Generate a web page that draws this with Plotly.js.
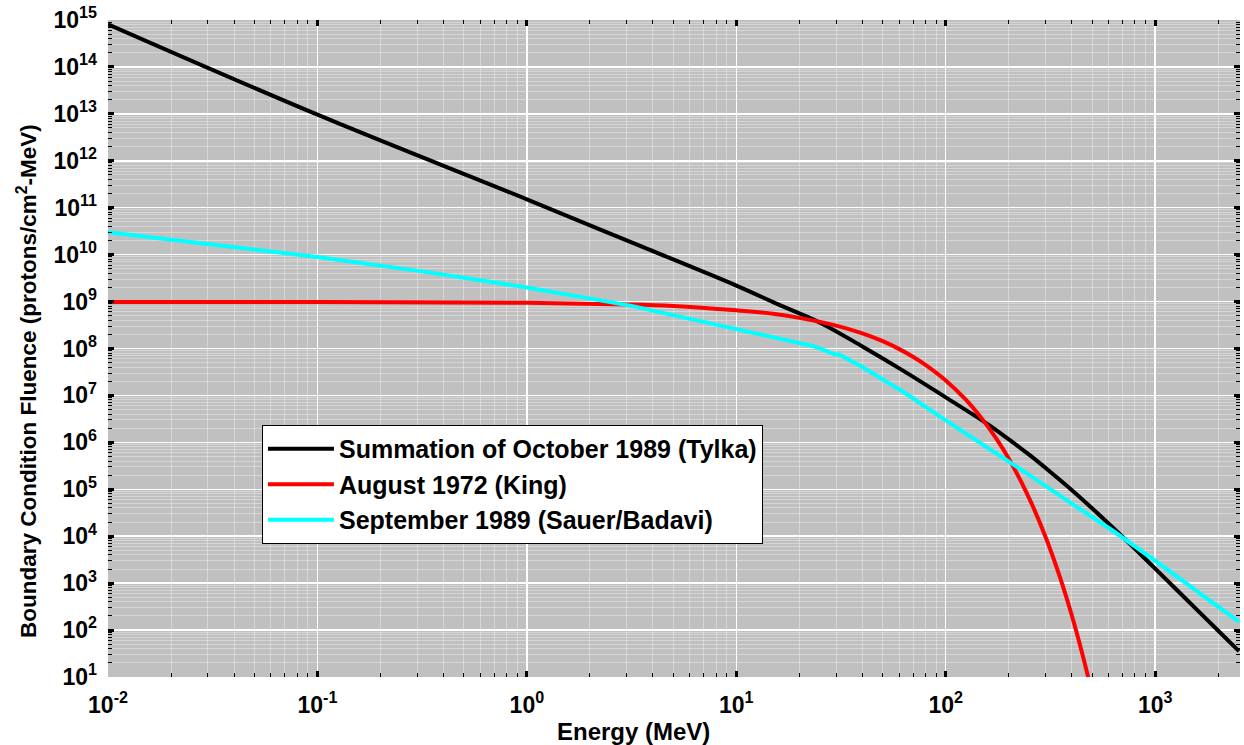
<!DOCTYPE html>
<html>
<head>
<meta charset="utf-8">
<script src="https://cdn.plot.ly/plotly-3.0.1.min.js"></script>
<style>html,body{margin:0;padding:0;background:#fff;}#chart{width:1244px;height:745px;}</style>
</head>
<body>
<div id="chart"></div>
<script>
// Summation of October 1989 (Tylka)
const tylkaE = [0.01, 0.1, 1, 3.16, 10, 15.85, 25.1, 39.8, 63.1, 100, 158.5, 199.5, 251, 316, 398, 501, 631, 794, 1000, 1259, 1585, 1995, 2512];
const tylkaF = [8.1e14, 9.6e12, 1.51e11, 1.82e10, 2.19e9, 8.7e8, 3.55e8, 1.12e8, 3.3e7, 9.1e6, 2.45e6, 1.17e6, 5.4e5, 2.34e5, 9.8e4, 3.9e4, 1.5e4, 5.6e3, 2.04e3, 741, 269, 98, 35.5];

// August 1972 (King)
const kingE = [0.01, 0.1, 1, 3, 5, 10, 15, 20, 30, 40, 50, 60, 70, 80, 100, 125, 150, 175, 200, 250, 300, 350, 400, 450, 500];
const kingF = [9.8e8, 9.8e8, 9.4e8, 8.7e8, 8.05e8, 6.5e8, 5.5e8, 4.5e8, 3.08e8, 2.1e8, 1.43e8, 9.7e7, 6.6e7, 4.5e7, 2.09e7, 8.0e6, 3.05e6, 1.17e6, 4.5e5, 6.5e4, 9.5e3, 1.39e3, 204, 29.8, 4.4];

// September 1989 (Sauer/Badavi)
const sauerE = [0.01, 0.0316, 0.1, 0.316, 1, 3.16, 10, 23.4, 29.3, 31.4, 39.8, 63.1, 100, 158.5, 251, 398, 631, 1000, 1585, 2512];
const sauerF = [3.0e10, 1.66e10, 8.9e9, 4.4e9, 2.0e9, 8.1e8, 2.63e8, 1.12e8, 7.6e7, 7.2e7, 4.1e7, 1.17e7, 2.95e6, 7.8e5, 2.0e5, 5.0e4, 1.29e4, 3.0e3, 6.9e2, 150];

const seriesNames = ['Summation of October 1989 (Tylka)', 'August 1972 (King)', 'September 1989 (Sauer/Badavi)'];

const xTickVals = [0.01, 0.1, 1, 10, 100, 1000];
const xTickText = ['10<sup>-2</sup>', '10<sup>-1</sup>', '10<sup>0</sup>', '10<sup>1</sup>', '10<sup>2</sup>', '10<sup>3</sup>'];
const yTickVals = [1e1, 1e2, 1e3, 1e4, 1e5, 1e6, 1e7, 1e8, 1e9, 1e10, 1e11, 1e12, 1e13, 1e14, 1e15];
const yTickText = ['10<sup>1</sup>', '10<sup>2</sup>', '10<sup>3</sup>', '10<sup>4</sup>', '10<sup>5</sup>', '10<sup>6</sup>', '10<sup>7</sup>', '10<sup>8</sup>', '10<sup>9</sup>', '10<sup>10</sup>', '10<sup>11</sup>', '10<sup>12</sup>', '10<sup>13</sup>', '10<sup>14</sup>', '10<sup>15</sup>'];

const xTitle = 'Energy (MeV)';
const yTitle = 'Boundary Condition Fluence (protons/cm<sup>2</sup>-MeV)';

const FONT = 'Liberation Sans, Arial, sans-serif';

const traces = [
  {x: tylkaE, y: tylkaF, name: seriesNames[0], mode: 'lines', line: {color: '#000000', width: 4, shape: 'spline', smoothing: 1}},
  {x: kingE, y: kingF, name: seriesNames[1], mode: 'lines', line: {color: '#ff0000', width: 4, shape: 'spline', smoothing: 1}},
  {x: sauerE, y: sauerF, name: seriesNames[2], mode: 'lines', line: {color: '#00ffff', width: 4}}
];

const axisCommon = {
  type: 'log',
  tickmode: 'array',
  ticks: 'inside',
  ticklen: 6,
  tickwidth: 3,
  tickcolor: '#000',
  mirror: 'ticks',
  showline: false,
  zeroline: false,
  showgrid: true,
  gridcolor: '#ffffff',
  gridwidth: 1.5,
  automargin: false,
  tickfont: {family: FONT, size: 23, color: '#000', weight: 700},
  minor: {
    dtick: 'D1',
    ticks: 'inside',
    ticklen: 4,
    tickwidth: 1,
    tickcolor: '#000',
    showgrid: true,
    gridcolor: 'rgba(255,255,255,0.35)',
    gridwidth: 1
  }
};

const layout = {
  width: 1244,
  height: 745,
  margin: {l: 108, r: 4, t: 20, b: 68},
  paper_bgcolor: '#ffffff',
  plot_bgcolor: '#c0c0c0',
  showlegend: true,
  xaxis: Object.assign({}, axisCommon, {
    range: [-2, 3.405],
    tickvals: xTickVals,
    ticktext: xTickText,
    ticklabelstandoff: 12
  }),
  yaxis: Object.assign({}, axisCommon, {
    range: [1, 15],
    tickvals: yTickVals,
    ticktext: yTickText,
    ticklabelstandoff: 10
  }),
  annotations: [
    {text: xTitle, xref: 'paper', yref: 'paper', x: 0.464, y: -0.0837, xanchor: 'center', yanchor: 'middle', showarrow: false,
     font: {family: FONT, size: 24, color: '#000', weight: 700}},
    {text: yTitle, xref: 'paper', yref: 'paper', x: -0.0716, y: 0.4505, xanchor: 'center', yanchor: 'middle', showarrow: false, textangle: -90,
     font: {family: FONT, size: 22.5, color: '#000', weight: 700}}
  ],
  legend: {
    x: 0.136, y: 0.3836, xanchor: 'left', yanchor: 'top',
    bgcolor: '#ffffff',
    bordercolor: '#000000',
    borderwidth: 1,
    itemwidth: 66,
    font: {family: FONT, size: 25, color: '#000', weight: 700},
    tracegroupgap: 0
  }
};

Plotly.newPlot('chart', traces, layout, {staticPlot: true});
</script>
</body>
</html>
